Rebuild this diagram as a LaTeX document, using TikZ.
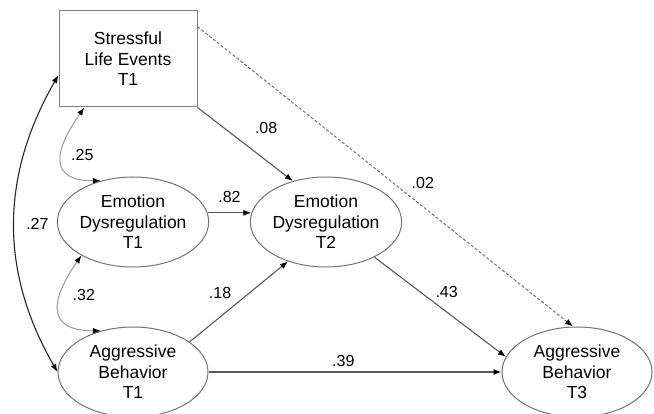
\documentclass[tikz,border=0pt]{standalone}
\usepackage{fontspec}
\setmainfont{Liberation Sans}
\usetikzlibrary{arrows.meta, shapes.geometric, positioning}

\tikzset{
  latent/.style={ellipse, draw=black!55, line width=1pt, inner sep=0pt,
    minimum width=150pt, minimum height=90pt, align=center,
    font=\fontsize{17.5}{20.5}\selectfont},
  observed/.style={rectangle, draw=black!50, line width=1pt, inner sep=0pt,
    minimum width=138pt, minimum height=96pt, align=center,
    font=\fontsize{17.5}{20.5}\selectfont},
  coef/.style={font=\fontsize{16}{18}\selectfont, inner sep=0pt},
  reg/.style={->, draw=black!65, line width=1.1pt},
  nonsig/.style={->, draw=black!55, line width=1pt, dash pattern=on 3pt off 2pt},
  cov/.style={<->, draw=black!40, line width=1pt},
  bigcov/.style={<->, draw=black!85, line width=1.1pt}
}

\begin{document}
\begin{tikzpicture}[x=1pt, y=1pt, node distance=150pt, on grid,
    >={Latex[length=8pt,width=6pt,color=black]}]
  \useasboundingbox (0,0) rectangle (654,414);

  \node[latent]   (ed_1) at (133,192)                     {Emotion\\Dysregulation\\T1};
  \node[latent]   (ab_1) [below=of ed_1]                  {Aggressive\\Behavior\\T1};
  \node[latent]   (ed_2) [right=193pt of ed_1]            {Emotion\\Dysregulation\\T2};
  \node[latent]   (ab_3) [right=444pt of ab_1]            {Aggressive\\Behavior\\T3};
  \node[observed] (sle)  [above left=163pt and 5pt of ed_1] {Stressful\\Life Events\\T1};

  \path (sle.south east) edge[reg] node[coef, pos=0.72, yshift=32pt] {.08} (ed_2.129)
  (ed_1.7) edge[reg] node[coef, midway, yshift=16pt] {.82} (ed_2.173)
  (ab_1.28) edge[reg] node[coef, pos=0.31, yshift=24pt] {.18} (ed_2.226)
  (ed_2.324) edge[reg] node[coef, pos=0.55, yshift=20pt] {.43} (ab_3.168)
  (ab_1.east) edge[reg] node[coef, pos=0.46, yshift=11pt] {.39} (ab_3.west)
  (sle.25) edge[nonsig] node[coef, pos=0.6, yshift=24pt] {.02} (ab_3.95)
  ;

  \path (sle.228) edge[cov, out=235, in=180, looseness=1.8] node[coef, xshift=21pt, yshift=5pt] {.25} (ed_1.128)
  (ed_1.213) edge[cov, out=235, in=180, looseness=1.8] node[coef, xshift=25pt, yshift=15pt] {.32} (ab_1.128)
  (sle.193) edge[bigcov, out=240, in=120] node[coef, xshift=23pt] {.27} (ab_1.west)
  ;
\end{tikzpicture}
\end{document}
